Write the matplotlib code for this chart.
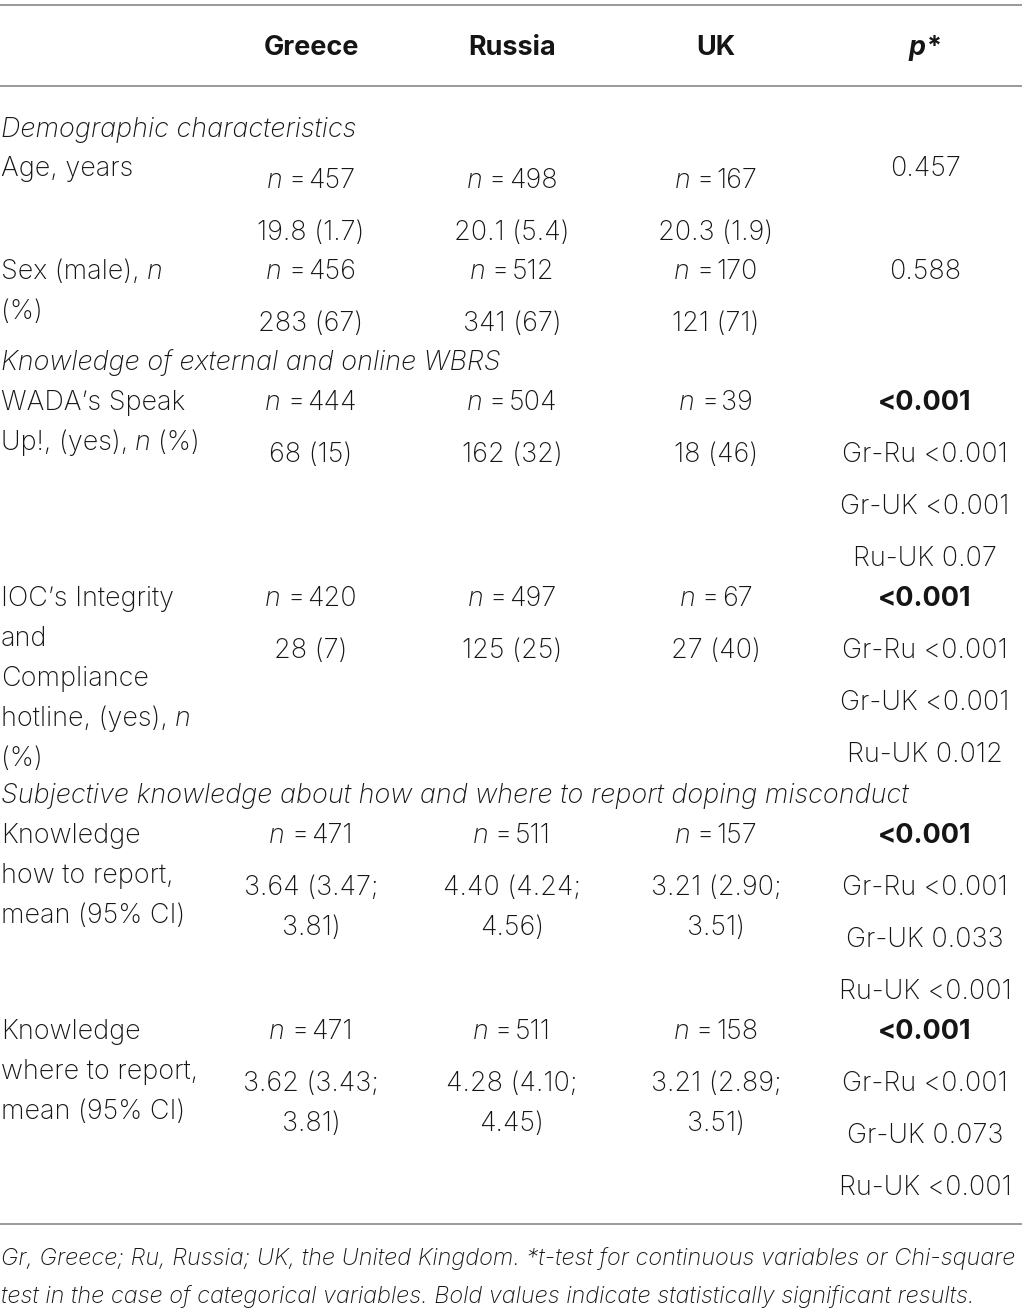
import matplotlib
matplotlib.use('Agg')
import matplotlib.pyplot as plt

# ---------------- data ----------------
countries = ['Greece', 'Russia', 'UK']
p_header = 'p'

sections = ['Demographic characteristics',
            'Knowledge of external and online WBRS',
            'Subjective knowledge about how and where to report doping misconduct']

age_n = [457, 498, 167]
age_vals = ['19.8 (1.7)', '20.1 (5.4)', '20.3 (1.9)']
age_p = ['0.457']

sex_n = [456, 512, 170]
sex_vals = ['283 (67)', '341 (67)', '121 (71)']
sex_p = ['0.588']

wada_n = [444, 504, 39]
wada_vals = ['68 (15)', '162 (32)', '18 (46)']
wada_p = ['<0.001', 'Gr-Ru <0.001', 'Gr-UK <0.001', 'Ru-UK 0.07']

ioc_n = [420, 497, 67]
ioc_vals = ['28 (7)', '125 (25)', '27 (40)']
ioc_p = ['<0.001', 'Gr-Ru <0.001', 'Gr-UK <0.001', 'Ru-UK 0.012']

how_n = [471, 511, 157]
how_mean = ['3.64', '4.40', '3.21']
how_lo = ['3.47', '4.24', '2.90']
how_hi = ['3.81', '4.56', '3.51']
how_p = ['<0.001', 'Gr-Ru <0.001', 'Gr-UK 0.033', 'Ru-UK <0.001']

where_n = [471, 511, 158]
where_mean = ['3.62', '4.28', '3.21']
where_lo = ['3.43', '4.10', '2.89']
where_hi = ['3.81', '4.45', '3.51']
where_p = ['<0.001', 'Gr-Ru <0.001', 'Gr-UK 0.073', 'Ru-UK <0.001']

footnote = ['Gr, Greece; Ru, Russia; UK, the United Kingdom. *t-test for continuous variables or Chi-square',
            'test in the case of categorical variables. Bold values indicate statistically significant results.']

# ---------------- layout ----------------
W, H = 1022, 1314
DPI = 100
fig = plt.figure(figsize=(W / DPI, H / DPI), dpi=DPI)
fig.patch.set_facecolor('white')
ax = fig.add_axes([0, 0, 1, 1])
ax.set_xlim(0, W)
ax.set_ylim(H, 0)
ax.axis('off')
renderer = fig.canvas.get_renderer()

FONT = 'Inter'
TXT = '#151515'
PX = 72 / DPI
FS = 27 * PX

R = dict(family=FONT, weight='light', color=TXT)
I = dict(family=FONT, weight='light', style='italic', color=TXT)
B = dict(family=FONT, weight='bold', color=TXT)
BI = dict(family=FONT, weight='bold', style='italic', color=TXT)

COLX = [311, 512, 716]
PX_COL = 925
LEFT = 1


def width_of(s, fs, st):
    t = ax.text(0, 0, s, fontsize=fs, **st)
    w = t.get_window_extent(renderer).width
    t.remove()
    return w


def draw(x, y, segs, ha='center', fs=FS):
    """segs: list of (text, style, gap_before_px)"""
    ws = [width_of(s, fs, st) for s, st, g in segs]
    total = sum(ws) + sum(g for _, _, g in segs)
    if ha == 'center':
        cur = x - total / 2
    elif ha == 'right':
        cur = x - total
    else:
        cur = x
    for (s, st, g), w in zip(segs, ws):
        cur += g
        ax.text(cur, y, s, fontsize=fs, ha='left', va='baseline', **st)
        cur += w


def n_cell(x, y, n):
    draw(x, y, [('n', I, 0), ('=', R, 6), (str(n), R, 3)])


def plain(x, y, s, st=R, ha='center'):
    draw(x, y, [(s, st, 0)], ha=ha)


def hline(y):
    ax.plot([0, W], [y, y], color='#9c9c9c', lw=2 * PX, solid_capstyle='butt')


# rules
hline(5)
hline(86)
hline(1224)

# header
for cx, c in zip(COLX, countries):
    plain(cx, 55, c, B)
draw(PX_COL, 55, [(p_header, BI, 0), ('*', B, 1)])

# section 1
plain(LEFT, 137, sections[0], I, ha='left')
plain(LEFT, 176, 'Age, years', ha='left')
for cx, n, v in zip(COLX, age_n, age_vals):
    n_cell(cx, 188, n)
    plain(cx, 240, v)
plain(PX_COL, 176, age_p[0])

draw(LEFT, 279, [('Sex (male),', R, 0), ('n', I, 7)], ha='left')
plain(LEFT, 319, '(%)', ha='left')
for cx, n, v in zip(COLX, sex_n, sex_vals):
    n_cell(cx, 279, n)
    plain(cx, 331, v)
plain(PX_COL, 279, sex_p[0])

# section 2
plain(LEFT, 370, sections[1], I, ha='left')

plain(LEFT, 410, 'WADA\u2019s Speak', ha='left')
draw(LEFT, 450, [('Up!, (yes),', R, 0), ('n', I, 7), ('(%)', R, 7)], ha='left')
for cx, n, v in zip(COLX, wada_n, wada_vals):
    n_cell(cx, 410, n)
    plain(cx, 462, v)
for k, (yy, s) in enumerate(zip([410, 462, 514, 566], wada_p)):
    plain(PX_COL, yy, s, B if k == 0 else R)

for yy, s in zip([606, 646, 686], ['IOC\u2019s Integrity', 'and', 'Compliance']):
    plain(LEFT, yy, s, ha='left')
draw(LEFT, 726, [('hotline, (yes),', R, 0), ('n', I, 7)], ha='left')
plain(LEFT, 766, '(%)', ha='left')
for cx, n, v in zip(COLX, ioc_n, ioc_vals):
    n_cell(cx, 606, n)
    plain(cx, 658, v)
for k, (yy, s) in enumerate(zip([606, 658, 710, 762], ioc_p)):
    plain(PX_COL, yy, s, B if k == 0 else R)

# section 3
plain(LEFT, 803, sections[2], I, ha='left')


def ci_block(y0, label_lines, ns, means, los, his, ps):
    for k, s in enumerate(label_lines):
        plain(LEFT, y0 + 40 * k, s, ha='left')
    for cx, n, m, lo, hi in zip(COLX, ns, means, los, his):
        n_cell(cx, y0, n)
        plain(cx, y0 + 52, f'{m} ({lo};')
        plain(cx, y0 + 92, f'{hi})')
    for k, s in enumerate(ps):
        plain(PX_COL, y0 + 52 * k, s, B if k == 0 else R)


ci_block(843, ['Knowledge', 'how to report,', 'mean (95% CI)'],
         how_n, how_mean, how_lo, how_hi, how_p)
ci_block(1039, ['Knowledge', 'where to report,', 'mean (95% CI)'],
         where_n, where_mean, where_lo, where_hi, where_p)

# footnote
FI = dict(family=FONT, style='italic', color=TXT, weight='light')
base = 26 * PX
wmax = max(width_of(s, base, FI) for s in footnote)
ffs = base * 1016 / wmax
for yy, s in zip([1265, 1303], footnote):
    ax.text(LEFT, yy, s, fontsize=ffs, ha='left', va='baseline', **FI)

fig.savefig('out.png', dpi=DPI, facecolor='white')
